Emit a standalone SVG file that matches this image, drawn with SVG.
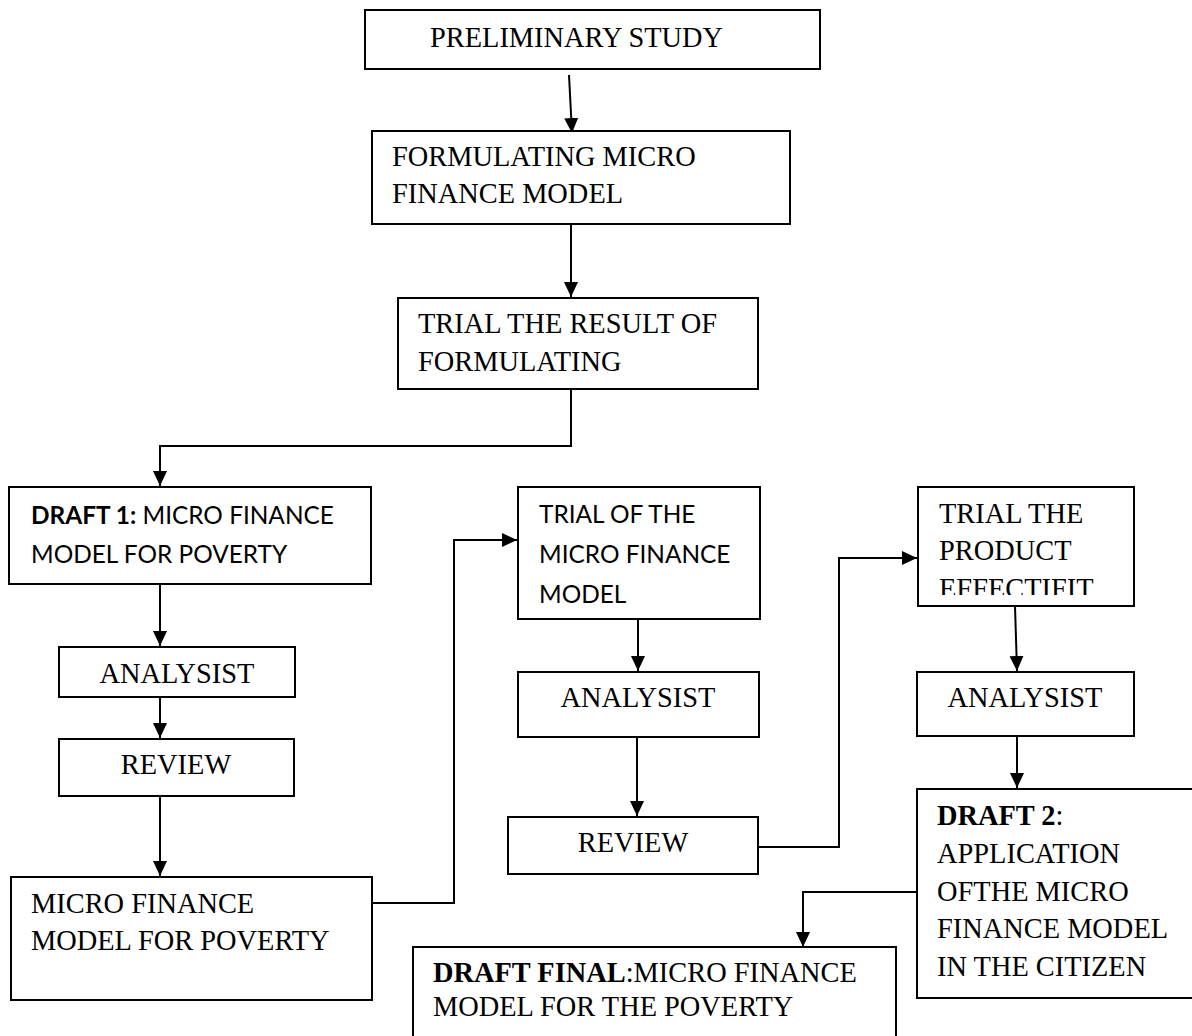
<svg xmlns="http://www.w3.org/2000/svg" width="1192" height="1036" viewBox="0 0 1192 1036">
<style>
.box{fill:#fff;stroke:#000;stroke-width:2}
.t{font-family:"Liberation Serif","Times New Roman",serif;font-size:28.4px;fill:#000}
.c{font-family:Lato,"Liberation Sans",sans-serif;font-size:24.4px;fill:#000}
.b{font-weight:bold}
.m{text-anchor:middle}
.ln{fill:none;stroke:#000;stroke-width:2}
</style>
<defs>
<marker id="ah" markerUnits="userSpaceOnUse" markerWidth="16" markerHeight="16" viewBox="0 0 16 16" refX="15" refY="8" orient="auto">
<path d="M0,1 L15,8 L0,15 Z" fill="#000"/>
</marker>
<clipPath id="clipTP"><rect x="918" y="487" width="216" height="108"/></clipPath>
</defs>
<rect width="1192" height="1036" fill="#fff"/>
<g id="connectors">
<path class="ln" d="M569,75 L572,133" marker-end="url(#ah)"/>
<path class="ln" d="M571,224 L571,297" marker-end="url(#ah)"/>
<path class="ln" d="M571,389 L571,446 L160,446 L160,486" marker-end="url(#ah)"/>
<path class="ln" d="M160,584 L160,646" marker-end="url(#ah)"/>
<path class="ln" d="M160,697 L160,738" marker-end="url(#ah)"/>
<path class="ln" d="M160,796 L160,876" marker-end="url(#ah)"/>
<path class="ln" d="M372,903 L454,903 L454,540 L517,540" marker-end="url(#ah)"/>
<path class="ln" d="M638,619 L638,671" marker-end="url(#ah)"/>
<path class="ln" d="M637,737 L637,816" marker-end="url(#ah)"/>
<path class="ln" d="M758,847 L839,847 L839,558 L917,558" marker-end="url(#ah)"/>
<path class="ln" d="M1015,606 L1017,671" marker-end="url(#ah)"/>
<path class="ln" d="M1017,736 L1017,788" marker-end="url(#ah)"/>
<path class="ln" d="M917,892 L803,892 L803,947" marker-end="url(#ah)"/>
</g>
<g id="preliminary">
<rect class="box" x="365" y="10" width="455" height="59"/>
<text class="t" x="430" y="47">PRELIMINARY STUDY</text>
</g>
<g id="formulating">
<rect class="box" x="372" y="131" width="418" height="93"/>
<text class="t" x="392" y="166">FORMULATING MICRO</text>
<text class="t" x="392" y="203">FINANCE MODEL</text>
</g>
<g id="trial-result">
<rect class="box" x="398" y="298" width="360" height="91"/>
<text class="t" x="418" y="333">TRIAL THE RESULT OF</text>
<text class="t" x="418" y="371">FORMULATING</text>
</g>
<g id="draft1">
<rect class="box" x="9" y="487" width="362" height="97"/>
<text class="c" x="31" y="524"><tspan class="b">DRAFT 1:</tspan> MICRO FINANCE</text>
<text class="c" x="31" y="563">MODEL FOR POVERTY</text>
</g>
<g id="analysis1">
<rect class="box" x="59" y="647" width="236" height="50"/>
<text class="t m" x="177" y="683">ANALYSIST</text>
</g>
<g id="review1">
<rect class="box" x="59" y="739" width="235" height="57"/>
<text class="t m" x="176" y="774">REVIEW</text>
</g>
<g id="microfinance">
<rect class="box" x="11" y="877" width="361" height="123"/>
<text class="t" x="31" y="913">MICRO FINANCE</text>
<text class="t" x="31" y="950">MODEL FOR POVERTY</text>
</g>
<g id="trial-micro">
<rect class="box" x="518" y="487" width="242" height="132"/>
<text class="c" x="539" y="523">TRIAL OF THE</text>
<text class="c" x="539" y="563">MICRO FINANCE</text>
<text class="c" x="539" y="603">MODEL</text>
</g>
<g id="analysis2">
<rect class="box" x="518" y="672" width="241" height="65"/>
<text class="t m" x="638" y="707">ANALYSIST</text>
</g>
<g id="review2">
<rect class="box" x="508" y="817" width="250" height="57"/>
<text class="t m" x="633" y="852">REVIEW</text>
</g>
<g id="trial-product">
<rect class="box" x="918" y="487" width="216" height="119"/>
<text class="t" x="939" y="523">TRIAL THE</text>
<text class="t" x="939" y="560">PRODUCT</text>
<text class="t" x="939" y="598" clip-path="url(#clipTP)">EFFECTIFIT</text>
</g>
<g id="analysis3">
<rect class="box" x="917" y="672" width="217" height="64"/>
<text class="t m" x="1025" y="707">ANALYSIST</text>
</g>
<g id="draft2">
<rect class="box" x="917" y="789" width="290" height="209"/>
<text class="t" x="937" y="825"><tspan class="b">DRAFT 2</tspan>:</text>
<text class="t" x="937" y="863">APPLICATION</text>
<text class="t" x="937" y="901">OFTHE MICRO</text>
<text class="t" x="937" y="938">FINANCE MODEL</text>
<text class="t" x="937" y="976">IN THE CITIZEN</text>
</g>
<g id="draft-final">
<rect class="box" x="413" y="947" width="483" height="100"/>
<text class="t" x="433" y="982"><tspan class="b">DRAFT FINAL</tspan>:MICRO FINANCE</text>
<text class="t" x="433" y="1016">MODEL FOR THE POVERTY</text>
</g>
</svg>
